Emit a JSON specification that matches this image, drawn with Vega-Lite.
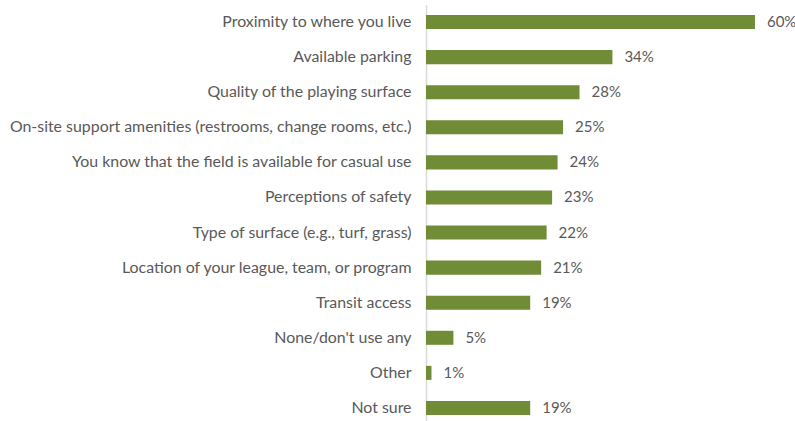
{
  "$schema": "https://vega.github.io/schema/vega-lite/v6.json",
  "autosize": {"type": "none"},
  "padding": {"left": 426, "top": 4.5, "right": 0, "bottom": 0},
  "width": 369,
  "height": 421,
  "background": "white",
  "config": {"view": {"stroke": null}, "font": "Lato"},
  "data": {"values": [
    {"item": "Proximity to where you live", "pct": 0.60},
    {"item": "Available parking", "pct": 0.34},
    {"item": "Quality of the playing surface", "pct": 0.28},
    {"item": "On-site support amenities (restrooms, change rooms, etc.)", "pct": 0.25},
    {"item": "You know that the field is available for casual use", "pct": 0.24},
    {"item": "Perceptions of safety", "pct": 0.23},
    {"item": "Type of surface (e.g., turf, grass)", "pct": 0.22},
    {"item": "Location of your league, team, or program", "pct": 0.21},
    {"item": "Transit access", "pct": 0.19},
    {"item": "None/don't use any", "pct": 0.05},
    {"item": "Other", "pct": 0.01},
    {"item": "Not sure", "pct": 0.19}
  ]},
  "encoding": {
    "y": {"field": "item", "type": "nominal", "sort": null,
      "scale": {"paddingInner": 0.6, "paddingOuter": 0.3},
      "axis": {"title": null, "ticks": false, "domainColor": "#d9d9d9", "domainWidth": 1.5,
        "labelFont": "Lato", "labelFontSize": 15.9, "labelColor": "#595959", "labelPadding": 15, "labelLimit": 430}},
    "x": {"field": "pct", "type": "quantitative", "scale": {"domain": [0, 0.673]}, "axis": null}
  },
  "layer": [
    {"mark": {"type": "bar", "color": "#718C37"}},
    {"mark": {"type": "text", "align": "left", "dx": 12, "fontSize": 15, "color": "#595959", "font": "Lato"},
     "encoding": {"text": {"field": "pct", "type": "quantitative", "format": ".0%"}}}
  ]
}
